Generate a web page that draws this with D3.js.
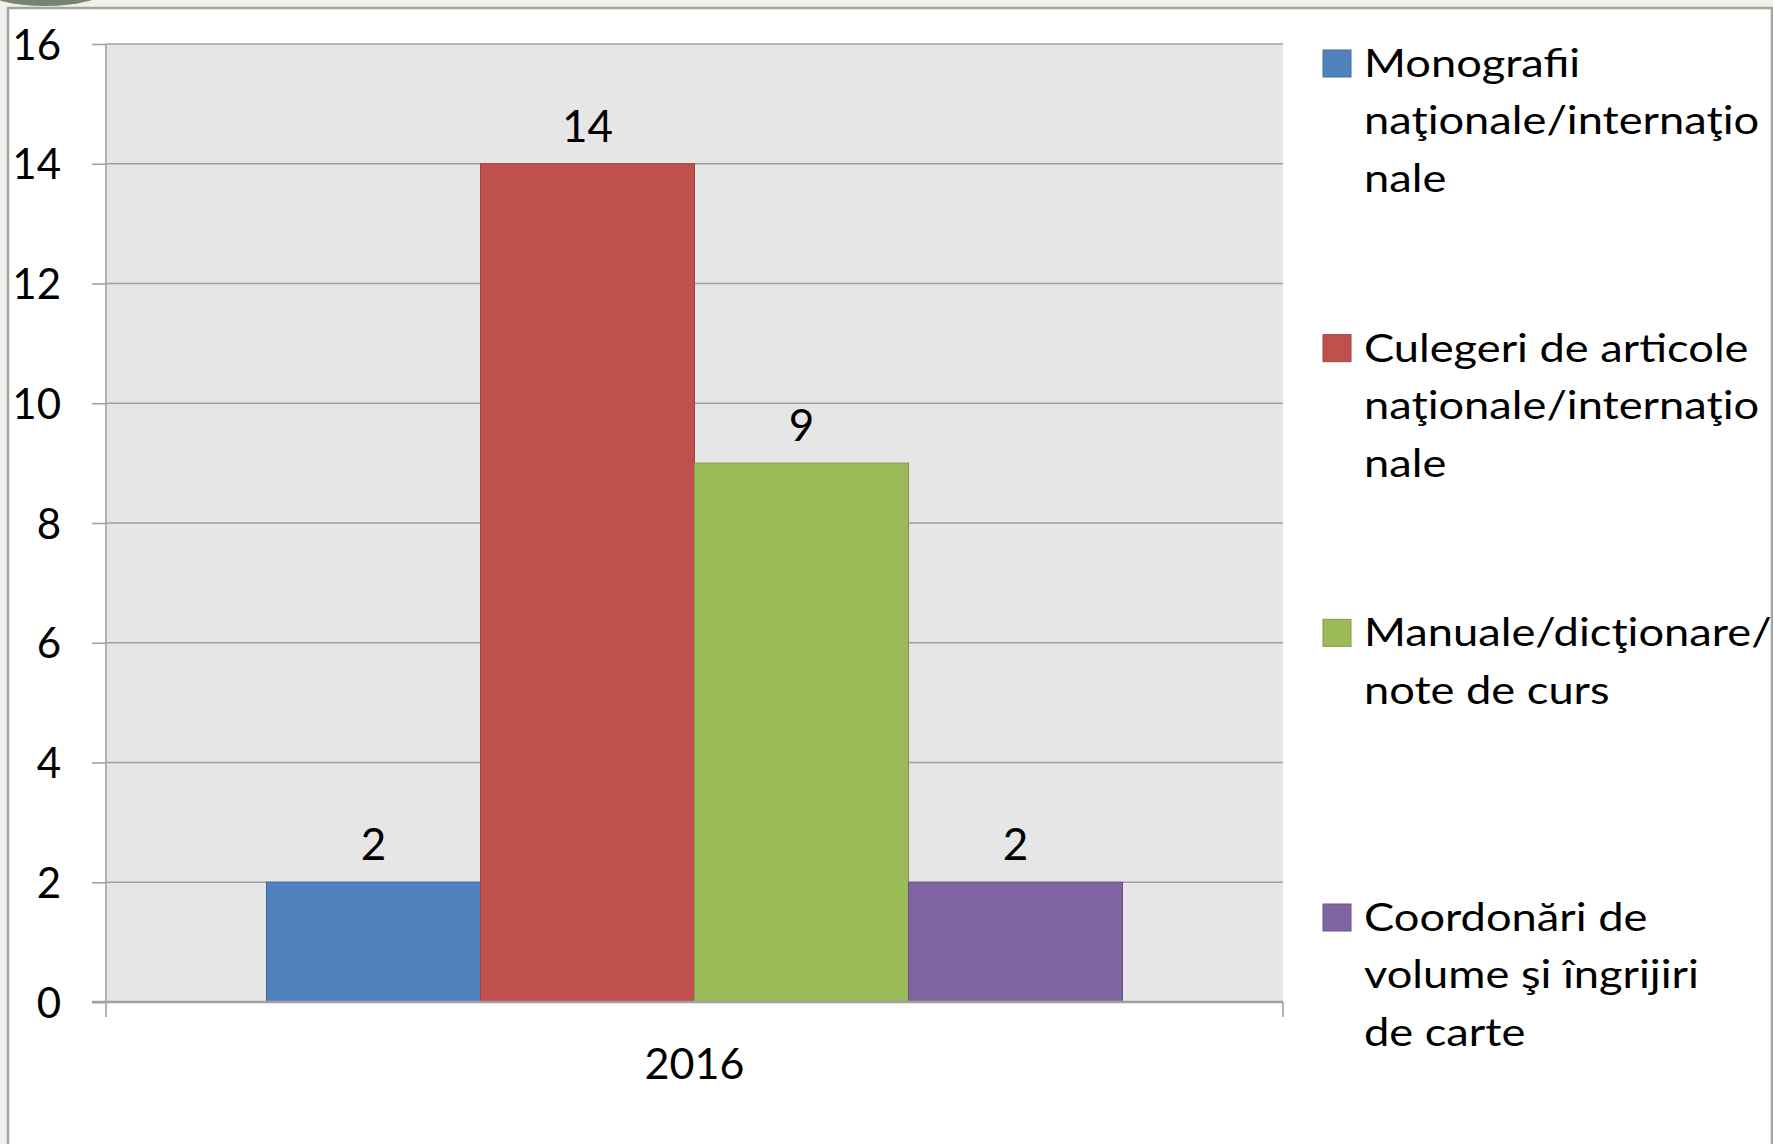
<!DOCTYPE html>
<html>
<head>
<meta charset="utf-8">
<script src="https://cdn.jsdelivr.net/npm/d3@7"></script>
<style>
  body { margin: 0; background: #eef1e9; overflow: hidden; }
  text { font-family: Lato, "Open Sans", "DejaVu Sans", sans-serif; fill: #000; }
</style>
</head>
<body>
<svg id="chart"></svg>
<script>
// data
const years = ["2016"];
const seriesNames = [
  "Monografii naţionale/internaţionale",
  "Culegeri de articole naţionale/internaţionale",
  "Manuale/dicţionare/note de curs",
  "Coordonări de volume şi îngrijiri de carte"
];
const seriesValues = [2, 14, 9, 2];
const seriesColors = ["#4f81bd", "#c0504d", "#9bbb59", "#8064a2"];
const yTicks = [0, 2, 4, 6, 8, 10, 12, 14, 16];
// legend text as wrapped in the original
const legendLines = [
  ["Monografii", "naţionale/internaţio", "nale"],
  ["Culegeri de articole", "naţionale/internaţio", "nale"],
  ["Manuale/dicţionare/", "note de curs"],
  ["Coordonări de", "volume şi îngrijiri", "de carte"]
];

const W = 1773, H = 1144;
const plot = { left: 106, top: 44, right: 1283, bottom: 1002 };

const svg = d3.select("#chart").attr("width", W).attr("height", H);

// slide decoration top-left
svg.append("ellipse")
  .attr("cx", 45).attr("cy", -10).attr("rx", 60).attr("ry", 16)
  .attr("fill", "#4f5c47").attr("opacity", 0.75);

// chart frame
svg.append("rect")
  .attr("x", 8).attr("y", 8)
  .attr("width", 1764).attr("height", 1160)
  .attr("fill", "#fff")
  .attr("stroke", "#a3a3a3")
  .attr("stroke-width", 2.5);

// scales
const y = d3.scaleLinear()
  .domain([0, 16])
  .range([plot.bottom, plot.top]);

const x0 = d3.scaleBand()
  .domain(years)
  .range([plot.left, plot.right])
  .paddingInner(1.5 / 5.5)
  .paddingOuter(0.75 / 5.5);

const x1 = d3.scaleBand()
  .domain(seriesNames)
  .range([0, x0.bandwidth()]);

// plot area background
svg.append("rect")
  .attr("x", plot.left).attr("y", plot.top)
  .attr("width", plot.right - plot.left)
  .attr("height", plot.bottom - plot.top)
  .attr("fill", "#e6e6e6");

// gridlines
svg.append("g")
  .selectAll("line")
  .data(yTicks.filter(d => d > 0))
  .join("line")
  .attr("x1", plot.left).attr("x2", plot.right)
  .attr("y1", d => y(d)).attr("y2", d => y(d))
  .attr("stroke", "#a0a0a0")
  .attr("stroke-width", 1.6);

// y axis
const yAxis = svg.append("g")
  .attr("transform", `translate(${plot.left},0)`)
  .call(d3.axisLeft(y).tickValues(yTicks).tickSize(14).tickPadding(31));
yAxis.select(".domain").remove();
yAxis.selectAll(".tick line").attr("stroke", "#a0a0a0").attr("stroke-width", 1.6);
yAxis.selectAll(".tick text")
  .attr("font-size", 42)
  .attr("font-family", null)
  .attr("dy", "0.36em");

// bars
const group = svg.append("g")
  .selectAll("g")
  .data(years)
  .join("g")
  .attr("transform", d => `translate(${x0(d)},0)`);

const barData = seriesNames.map((name, i) => ({ name, value: seriesValues[i], color: seriesColors[i] }));

group.selectAll("rect")
  .data(barData)
  .join("rect")
  .attr("x", d => x1(d.name))
  .attr("y", d => y(d.value))
  .attr("width", x1.bandwidth())
  .attr("height", d => y(0) - y(d.value))
  .attr("fill", d => d.color)
  .attr("stroke", d => d3.color(d.color).darker(0.6))
  .attr("stroke-width", 1);

group.selectAll("text.val")
  .data(barData)
  .join("text")
  .attr("class", "val")
  .attr("x", d => x1(d.name) + x1.bandwidth() / 2)
  .attr("y", d => y(d.value) - 22)
  .attr("text-anchor", "middle")
  .attr("font-size", 44)
  .text(d => d.value);

// vertical axis line and x axis
svg.append("line")
  .attr("x1", plot.left).attr("x2", plot.left)
  .attr("y1", plot.top).attr("y2", plot.bottom + 15)
  .attr("stroke", "#a0a0a0").attr("stroke-width", 1.6);

svg.append("line")
  .attr("x1", plot.left - 14).attr("x2", plot.right)
  .attr("y1", y(0)).attr("y2", y(0))
  .attr("stroke", "#a0a0a0").attr("stroke-width", 2.4);

svg.append("line")
  .attr("x1", plot.right).attr("x2", plot.right)
  .attr("y1", y(0)).attr("y2", plot.bottom + 15)
  .attr("stroke", "#a0a0a0").attr("stroke-width", 1.6);

svg.append("g")
  .selectAll("text")
  .data(years)
  .join("text")
  .attr("x", d => x0(d) + x0.bandwidth() / 2)
  .attr("y", 1079)
  .attr("text-anchor", "middle")
  .attr("font-size", 43)
  .text(d => d);

// legend
const legendY = d3.scaleLinear().domain([0, seriesNames.length - 1]).range([77, 931]);

const legend = svg.append("g")
  .selectAll("g")
  .data(seriesNames)
  .join("g")
  .attr("transform", (d, i) => `translate(1323,${legendY(i)})`);

legend.append("rect")
  .attr("x", 0).attr("y", -27)
  .attr("width", 28).attr("height", 27)
  .attr("fill", (d, i) => seriesColors[i])
  .attr("stroke", (d, i) => d3.color(seriesColors[i]).darker(0.5))
  .attr("stroke-width", 1);

// the original legend font is drawn a bit wider than Lato, so stretch it
legend.append("text")
  .attr("transform", "translate(41,0) scale(1.16,1)")
  .attr("font-size", 39)
  .selectAll("tspan")
  .data((d, i) => legendLines[i])
  .join("tspan")
  .attr("x", 0)
  .attr("y", (d, j) => j * 57.5)
  .text(d => d);
</script>
</body>
</html>
